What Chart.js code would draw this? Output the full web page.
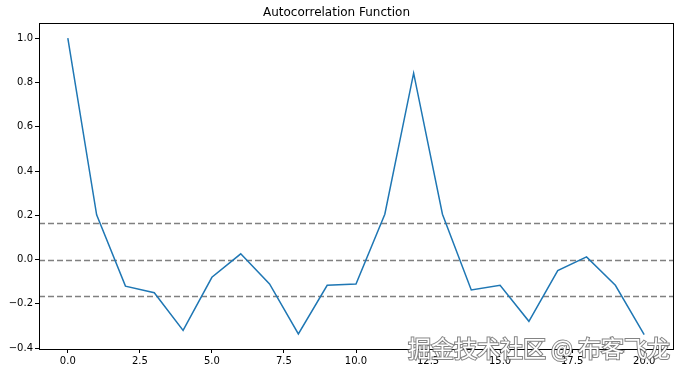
<!DOCTYPE html>
<html>
<head>
<meta charset="utf-8">
<script src="https://cdn.jsdelivr.net/npm/chart.js@4/dist/chart.umd.min.js"></script>
<style>
  html, body { margin: 0; padding: 0; background: #fff; }
  #wrap { width: 683px; height: 373px; position: relative; }
</style>
</head>
<body>
<div id="wrap"><canvas id="acf"></canvas></div>
<script>
/* ACF line chart, matplotlib look */
var lags = [0, 1, 2, 3, 4, 5, 6, 7, 8, 9, 10, 11, 12, 13, 14, 15, 16, 17, 18, 19, 20];
var acfValues = [1.0, 0.202, -0.12, -0.15, -0.32, -0.08, 0.026, -0.11, -0.336, -0.116, -0.11,
                 0.205, 0.842, 0.205, -0.137, -0.116, -0.279, -0.05, 0.012, -0.116, -0.339];
var confLevels = [0.164, 0, -0.164];
var xTicks = [0, 2.5, 5, 7.5, 10, 12.5, 15, 17.5, 20];
var yTicks = [-0.4, -0.2, 0, 0.2, 0.4, 0.6, 0.8, 1.0];
var titleText = 'Autocorrelation Function';
var watermark = '掘金技术社区 @ 布客飞龙';

var FONT = 'DejaVu Sans, sans-serif';

// frame + dashed reference lines
var framePlugin = {
  id: 'frame',
  beforeDatasetsDraw: function (chart) {
    var c = chart.ctx, a = chart.chartArea, y = chart.scales.y;
    c.save();
    c.strokeStyle = '#808080';
    c.lineWidth = 1.5;
    c.setLineDash([6, 3]);
    confLevels.forEach(function (v) {
      var py = Math.round(y.getPixelForValue(v)) + 0.5;
      c.beginPath();
      c.moveTo(a.left, py);
      c.lineTo(a.right, py);
      c.stroke();
    });
    c.restore();
  },
  afterDraw: function (chart) {
    var c = chart.ctx, a = chart.chartArea;
    c.save();
    c.strokeStyle = '#000';
    c.lineWidth = 1;
    c.strokeRect(Math.round(a.left) + 0.5, Math.round(a.top) + 0.5,
      Math.round(a.right - a.left), Math.round(a.bottom - a.top));
    // watermark
    c.font = '23px "Noto Sans CJK SC", sans-serif';
    c.textAlign = 'right';
    c.textBaseline = 'alphabetic';
    c.lineWidth = 2;
    c.strokeStyle = 'rgba(100,100,100,0.8)';
    c.fillStyle = '#fff';
    c.strokeText(watermark, 670, 357);
    c.fillText(watermark, 670, 357);
    c.restore();
  }
};

new Chart(document.getElementById('acf'), {
  type: 'line',
  data: {
    labels: lags,
    datasets: [{
      data: lags.map(function (l, i) { return { x: l, y: acfValues[i] }; }),
      borderColor: '#1f77b4',
      borderWidth: 1.5,
      pointRadius: 0,
      tension: 0,
      fill: false
    }]
  },
  options: {
    responsive: true,
    maintainAspectRatio: false,
    animation: false,
    layout: { padding: { left: 0, right: 10, top: 0, bottom: 0 } },
    plugins: {
      legend: { display: false },
      tooltip: { enabled: false },
      title: {
        display: true,
        text: titleText,
        color: '#000',
        font: { family: FONT, size: 12, weight: 'normal' },
        padding: { top: 6, bottom: 3 }
      }
    },
    scales: {
      x: {
        type: 'linear',
        min: -1,
        max: 21,
        afterBuildTicks: function (s) { s.ticks = xTicks.map(function (v) { return { value: v }; }); },
        afterFit: function (s) { s.height = 24; },
        grid: { display: true, drawOnChartArea: false, drawTicks: true, tickLength: 4, color: '#000' },
        border: { display: false },
        ticks: {
          color: '#000',
          padding: 2,
          maxRotation: 0,
          font: { family: FONT, size: 10 },
          callback: function (v) { return Number(v).toFixed(1); }
        }
      },
      y: {
        min: -0.404,
        max: 1.067,
        afterBuildTicks: function (s) { s.ticks = yTicks.map(function (v) { return { value: v }; }); },
        afterFit: function (s) { s.width = 39; },
        grid: { display: true, drawOnChartArea: false, drawTicks: true, tickLength: 4, color: '#000' },
        border: { display: false },
        ticks: {
          color: '#000',
          padding: 2,
          font: { family: FONT, size: 10 },
          callback: function (v) {
            var s = Number(v).toFixed(1);
            return s.charAt(0) === '-' ? '\u2212' + s.slice(1) : s;
          }
        }
      }
    }
  },
  plugins: [framePlugin]
});
</script>
</body>
</html>
